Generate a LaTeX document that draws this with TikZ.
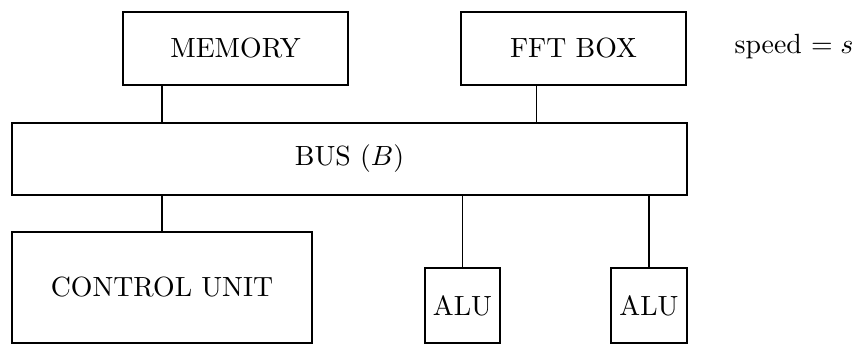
\documentclass[tikz,border=0pt]{standalone}
\usetikzlibrary{calc}
\begin{document}
\begin{tikzpicture}[x=0.36pt,y=-0.36pt,
  box/.style={draw,line width=0.45pt,rectangle,inner sep=0pt,font=\fontsize{10pt}{12pt}\selectfont},
  wire/.style={line width=0.45pt},
  lbl/.style={inner sep=0pt,font=\fontsize{10pt}{12pt}\selectfont}]
\useasboundingbox (0,0) rectangle (862,344);
\node[box,minimum width={225*0.36pt},minimum height={73*0.36pt}] (mem) at (235.5,48.5) {MEMORY};
\node[box,minimum width={225*0.36pt},minimum height={73*0.36pt}] (fft) at (573.5,48.5) {FFT BOX};
\node[lbl,anchor=base west] (speed) at (734,53) {speed $= s$};
\node[box,minimum width={675*0.36pt},minimum height={72*0.36pt}] (bus) at (349.5,159) {BUS ($B$)};
\node[box,minimum width={300*0.36pt},minimum height={111*0.36pt}] (cu) at (162,287.5) {CONTROL UNIT};
\node[box,minimum width={75*0.36pt},minimum height={75*0.36pt}] (alu1) at (462.5,305.5) {ALU};
\node[box,minimum width={76*0.36pt},minimum height={75*0.36pt}] (alu2) at (649,305.5) {ALU};
\coordinate (f) at ($(fft.south west)!0.338!(fft.south east)$);
\draw[wire] (mem.south -| cu.north) -- (bus.north -| cu.north);
\draw[wire] (f) -- (f |- bus.north);
\draw[wire] (bus.south -| cu.north) -- (cu.north);
\draw[wire] (bus.south -| alu1.north) -- (alu1.north);
\draw[wire] (bus.south -| alu2.north) -- (alu2.north);
\end{tikzpicture}
\end{document}
